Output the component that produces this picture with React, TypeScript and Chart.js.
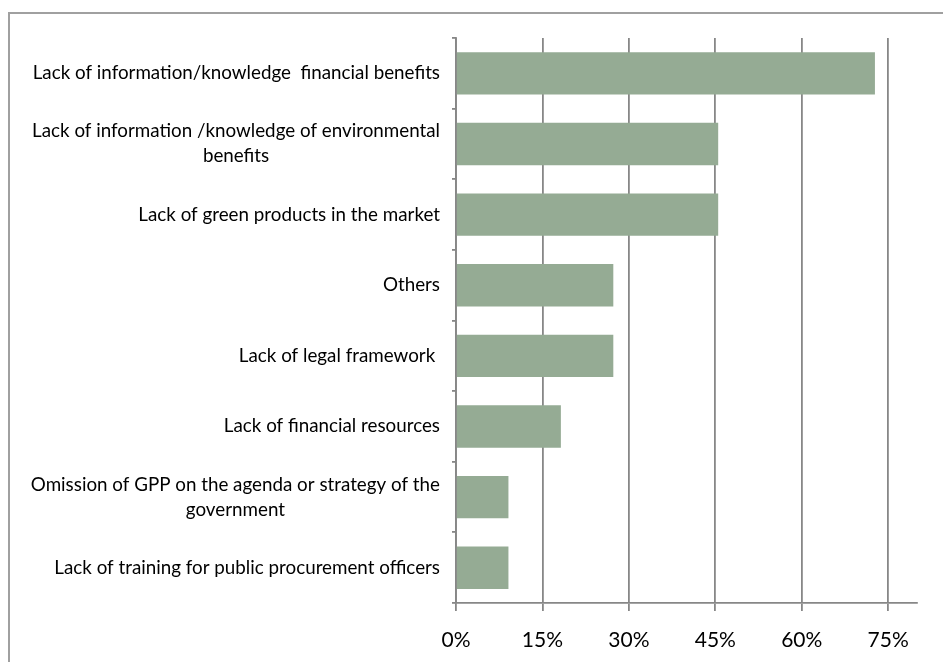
import React, { useEffect, useRef } from "react";
import { Chart, registerables } from "chart.js";

Chart.register(...registerables);

const categories: (string | string[])[] = [
  "Lack of information/knowledge  financial benefits",
  ["Lack of information /knowledge of environmental", "benefits"],
  "Lack of green products in the market",
  "Others",
  "Lack of legal framework ",
  "Lack of financial resources",
  ["Omission of GPP on the agenda or strategy of the", "government"],
  "Lack of training for public procurement officers",
];

const values: number[] = [0.727, 0.455, 0.455, 0.273, 0.273, 0.182, 0.091, 0.091];

const tickValues: number[] = [0, 0.15, 0.3, 0.45, 0.6, 0.75];

const LABEL_FONT = "18.8px Lato";
const LINE_H = 25;
const GRID = "#878787";

const yLabelPlugin = {
  id: "yLabels",
  afterDraw(chart: any) {
    const { ctx } = chart;
    const ys = chart.scales.y;
    ctx.save();
    ctx.font = LABEL_FONT;
    ctx.fillStyle = "#000";
    ctx.textBaseline = "middle";
    ctx.textAlign = "center";
    const right = chart.chartArea.left - 16;
    categories.forEach((lab, i) => {
      const lines = Array.isArray(lab) ? lab : [lab];
      const w = Math.max(...lines.map((l) => ctx.measureText(l).width));
      const cx = right - w / 2;
      const y0 = ys.getPixelForTick(i);
      lines.forEach((l, j) => {
        ctx.fillText(l, cx, y0 + (j - (lines.length - 1) / 2) * LINE_H);
      });
    });
    ctx.restore();
  },
};

export default function App() {
  const ref = useRef<HTMLCanvasElement | null>(null);
  useEffect(() => {
    if (!ref.current) return;
    const chart = new Chart(ref.current, {
      type: "bar",
      data: {
        labels: categories as any,
        datasets: [
          {
            data: values,
            backgroundColor: "#95ab94",
            borderWidth: 0,
            categoryPercentage: 1,
            barPercentage: 0.6,
          },
        ],
      },
      options: {
        indexAxis: "y",
        animation: false,
        responsive: false,
        layout: { padding: { top: 38, right: 26, left: 0, bottom: 0 } },
        plugins: { legend: { display: false }, tooltip: { enabled: false } },
        scales: {
          x: {
            min: 0,
            max: 0.8,
            afterBuildTicks: (scale: any) => {
              scale.ticks = tickValues.map((v) => ({ value: v }));
            },
            afterFit: (scale: any) => {
              scale.height = 59;
            },
            ticks: {
              font: { family: "Lato", size: 21 },
              color: "#000",
              padding: 17,
              callback: (v: any) => Math.round(Number(v) * 100) + "%",
            },
            grid: {
              color: GRID,
              lineWidth: 1.8,
              tickLength: 8,
              drawTicks: true,
            },
            border: { color: GRID, width: 1.8 },
          },
          y: {
            afterFit: (scale: any) => {
              scale.width = 456;
            },
            ticks: { display: false },
            grid: {
              offset: true,
              drawOnChartArea: false,
              drawTicks: true,
              tickLength: 4,
              color: GRID,
              lineWidth: 1.8,
            },
            border: { color: GRID, width: 1.8 },
          },
        },
      },
      plugins: [yLabelPlugin],
    });
    return () => chart.destroy();
  }, []);

  return (
    <div
      style={{
        position: "fixed",
        left: 0,
        top: 0,
        width: 943,
        height: 662,
        overflow: "hidden",
        background: "#fff",
      }}
    >
      <div
        style={{
          position: "absolute",
          left: 8,
          top: 12,
          width: 1000,
          height: 700,
          border: "2px solid #a0a0a0",
          boxSizing: "border-box",
        }}
      />
      <canvas
        ref={ref}
        width={943}
        height={662}
        style={{ position: "absolute", left: 0, top: 0, width: 943, height: 662 }}
      />
    </div>
  );
}
